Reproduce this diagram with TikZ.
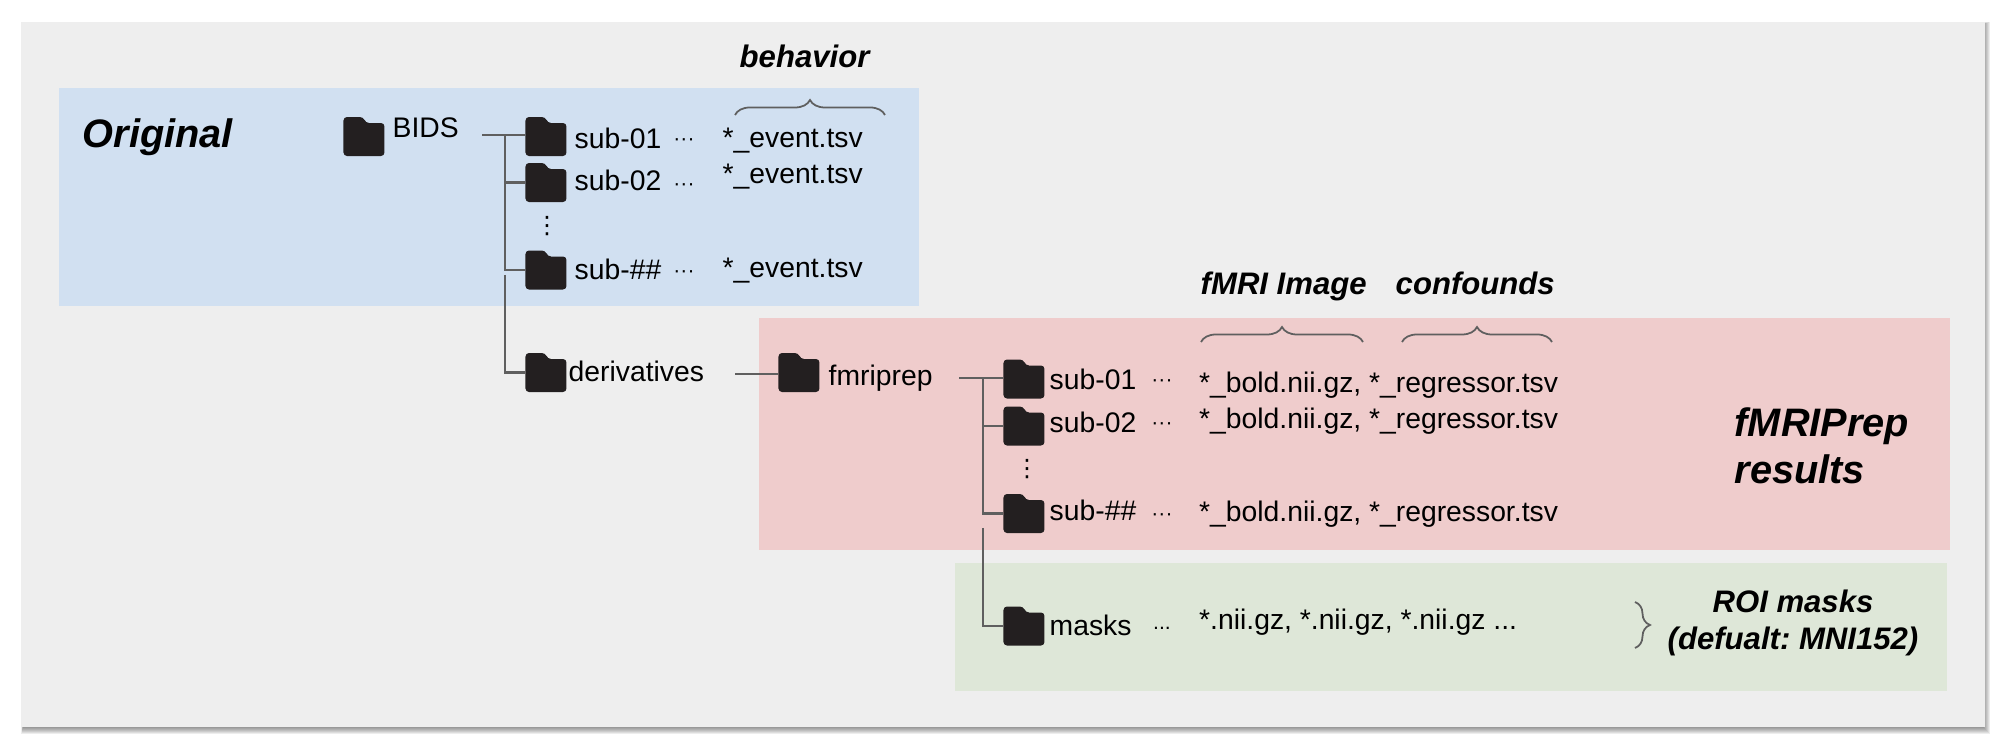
\documentclass[tikz,border=0pt]{standalone}
\usepackage{fontspec}
\setmainfont{Liberation Sans}
\newfontfamily\symfont{DejaVu Sans}
\usetikzlibrary{decorations.pathreplacing}
\definecolor{panelgray}{HTML}{EEEEEE}
\definecolor{origblue}{HTML}{D1E0F1}
\definecolor{prepred}{HTML}{EFCCCC}
\definecolor{maskgreen}{HTML}{DEE7D8}
\definecolor{folderdark}{HTML}{231F20}
\definecolor{linegray}{HTML}{5F5F5F}
\begin{document}
\begin{tikzpicture}[
    x=0.01cm, y=-0.01cm,
    region/.style={rectangle, inner sep=0pt},
    folder/.style={rectangle, inner sep=0pt, minimum width=0.41cm, minimum height=0.39cm,
                   path picture={\fill[folderdark, rounded corners=1pt]
                     (path picture bounding box.south west) -- ++(0,-39) -- ++(20,0)
                     -- ++(2,6) -- ++(19,0) -- ++(0,33) -- cycle;}},
    item/.style={anchor=base west, inner sep=0pt, font=\fontsize{8.05}{10}\selectfont},
    dotted row/.style={anchor=center, inner sep=0pt, font=\fontsize{6}{7}\selectfont},
    vdot/.style={anchor=center, inner sep=0pt, font=\fontsize{6.8}{7}\symfont},
    heading/.style={anchor=base west, inner sep=0pt, font=\fontsize{8.85}{10.6}\selectfont\bfseries\itshape\frenchspacing},
    bigtitle/.style={anchor=base west, inner sep=0pt, align=left,
                     font=\fontsize{11.3}{13.6}\selectfont\bfseries\itshape},
    conn/.style={draw=linegray, line width=0.6pt},
    bracket/.style={draw=linegray, line width=0.5pt, decorate},
  ]
  \useasboundingbox (0,0) rectangle (2008,752);

  % Soft shadow of the panel
  \foreach \k in {0,...,6}
    \fill[black, opacity=.07] (23-0.3*\k,24-0.3*\k) rectangle (1984+\k,728+\k);

  % Background panel
  \node[region, fill=panelgray, minimum width=19.62cm, minimum height=7.05cm]
    (panel) at (1003,374.5) {};

  % Coloured regions
  \node[region, fill=origblue,  minimum width=8.6cm,   minimum height=2.18cm] (orig) at (489,197) {};
  \node[region, fill=prepred,   minimum width=11.91cm, minimum height=2.32cm] (prep) at (1354.5,434) {};
  \node[region, fill=maskgreen, minimum width=9.92cm,  minimum height=1.28cm] (mask) at (1451,627) {};

  % Region titles
  \node[bigtitle] (origtitle) at (82,148) {Original};
  \node[bigtitle] (preptitle) at (1734,484) {fMRIPrep\\results};
  \node[heading] (behav) at (739,68) {behavior};
  \node[heading] (image) at (1200,295) {fMRI Image};
  \node[heading] (conf)  at (1395,295) {confounds};
  \node[heading, anchor=base, align=center] (roi) at (1793,649.5) {ROI masks\\(defualt: MNI152)};

  % Folders, original
  \node[folder] (bids) at (364,136.5) {};
  \node[folder] (subA) at (546,136.5) {};
  \node[folder] (subB) at (546,182.5) {};
  \node[folder] (subN) at (546,270) {};
  \node[folder] (deriv) at (546,372.5) {};

  % Folders, fmriprep
  \node[folder] (fprep) at (799,372.5) {};
  \node[folder] (psubA) at (1024,379) {};
  \node[folder] (psubB) at (1024,426) {};
  \node[folder] (psubN) at (1024,513.5) {};
  \node[folder] (pmask) at (1024,626) {};

  % Folder names
  \node[item] (bidstxt) at (392,137.5) {BIDS};
  \node[item] (subAtxt) at (574,148.5) {sub-01};
  \node[item] (subBtxt) at (574,191) {sub-02};
  \node[item] (subNtxt) at (574,279.5) {sub-\#\#};
  \node[item] (derivtxt) at (568,382) {derivatives};
  \node[item] (fpreptxt) at (828,386) {fmriprep};
  \node[item] (psubAtxt) at (1049,390) {sub-01};
  \node[item] (psubBtxt) at (1049,432.5) {sub-02};
  \node[item] (psubNtxt) at (1049,521) {sub-\#\#};
  \node[item] (pmasktxt) at (1049,636) {masks};

  % Dots
  \node[dotted row] (dotA) at (684,142) {···};
  \node[dotted row] (dotB) at (684,187) {···};
  \node[dotted row] (dotN) at (684,274) {···};
  \node[vdot] (vdotA) at (547,226) {⋮};
  \node[dotted row] (pdotA) at (1162,383) {···};
  \node[dotted row] (pdotB) at (1162,426) {···};
  \node[dotted row] (pdotN) at (1162,517) {···};
  \node[dotted row] (pdotM) at (1162,628) {...};
  \node[vdot] (vdotB) at (1027,469) {⋮};

  % Files
  \node[item] (evA) at (722,148) {*\_event.tsv};
  \node[item] (evB) at (722,184) {*\_event.tsv};
  \node[item] (evN) at (722,278) {*\_event.tsv};
  \node[item] (boldA) at (1198.5,392.5) {*\_bold.nii.gz, *\_regressor.tsv};
  \node[item] (boldB) at (1198.5,428.5) {*\_bold.nii.gz, *\_regressor.tsv};
  \node[item] (boldN) at (1198.5,521.5) {*\_bold.nii.gz, *\_regressor.tsv};
  \node[item] (nii) at (1198.5,630) {*.nii.gz, *.nii.gz, *.nii.gz ...};

  % Free ends of the tree lines
  \coordinate (bidsout) at (482,135);
  \coordinate (trunk) at (505,135);
  \coordinate (trunkgap) at (505,275);
  \coordinate (derivout) at (735,374);
  \coordinate (fprepout) at (959,378);
  \coordinate (ptrunk) at (983,378);
  \coordinate (ptrunkgap) at (983,528);

  % Tree lines
  \draw[conn] (bidsout) -- (bidsout -| subA.west);
  \draw[conn] (trunk) |- (subN.west);
  \draw[conn] (trunk |- subB.west) -- (subB.west);
  \draw[conn] (trunkgap) |- (deriv.west);
  \draw[conn] (derivout) -- (derivout -| fprep.west);
  \draw[conn] (fprepout) -- (fprepout -| psubA.west);
  \draw[conn] (ptrunk) |- (psubN.west);
  \draw[conn] (ptrunk |- psubB.west) -- (psubB.west);
  \draw[conn] (ptrunkgap) |- (pmask.west);

  % Braces
  \coordinate (behavL) at (735,115);
  \coordinate (behavR) at (885,115);
  \coordinate (imageL) at (1201,342);
  \coordinate (imageR) at (1363,342);
  \coordinate (confL) at (1402,342);
  \coordinate (confR) at (1552,342);
  \coordinate (roiT) at (1635,602);
  \coordinate (roiB) at (1635,648);
  \draw[bracket, decoration={brace, amplitude=0.15cm}] (behavL) -- (behavR);
  \draw[bracket, decoration={brace, amplitude=0.15cm}] (imageL) -- (imageR);
  \draw[bracket, decoration={brace, amplitude=0.15cm}] (confL) -- (confR);
  \draw[bracket, decoration={brace, amplitude=0.15cm}] (roiT) -- (roiB);

\end{tikzpicture}
\end{document}
